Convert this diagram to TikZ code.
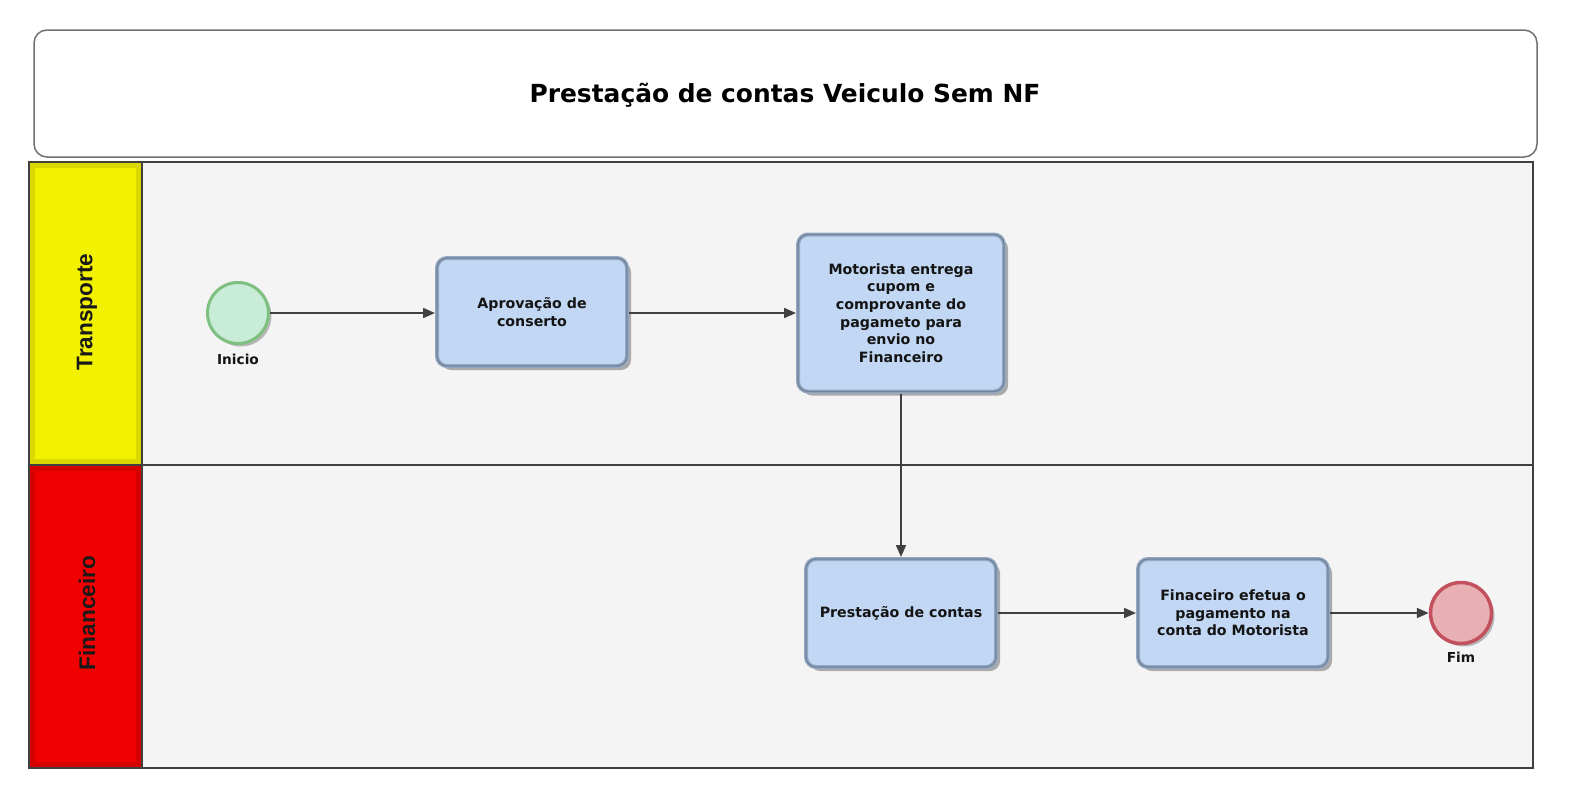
\documentclass[tikz,border=0pt]{standalone}
\usepackage{fontspec}
\setmainfont{DejaVu Sans}
\newfontfamily\lanefont{Liberation Sans}
\usetikzlibrary{shadows,arrows.meta}
\definecolor{lanebg}{HTML}{F4F4F4}
\definecolor{laneline}{HTML}{404040}
\definecolor{taskfill}{HTML}{C2D7F3}
\definecolor{taskedge}{HTML}{95A8C2}
\definecolor{taskdark}{HTML}{6F819B}
\definecolor{startfill}{HTML}{C8ECD8}
\definecolor{startedge}{HTML}{7DC07F}
\definecolor{endfill}{HTML}{E8B0B2}
\definecolor{endedge}{HTML}{C2505E}
\definecolor{arrowc}{HTML}{404040}
\definecolor{titleedge}{HTML}{707070}
\definecolor{laneyellow}{HTML}{F2F200}
\definecolor{laneyellowd}{HTML}{C8C400}
\definecolor{lanered}{HTML}{F00000}
\definecolor{laneredd}{HTML}{C00000}
\tikzset{
  task/.style={rectangle, rounded corners=10pt, fill=taskfill, draw=taskedge,
    line width=4pt, minimum width=190pt, minimum height=108pt, align=center,
    font=\fontsize{14.2}{17.6}\selectfont\bfseries, text=black!92, inner sep=2pt,
    drop shadow={shadow xshift=4pt, shadow yshift=-4pt, fill=black, opacity=0.3},
    postaction={draw=taskdark, line width=1.2pt}},
  startev/.style={circle, minimum size=61pt, inner sep=0pt, fill=startfill, draw=startedge, line width=3pt,
    drop shadow={shadow xshift=3pt, shadow yshift=-3pt, fill=black, opacity=0.25}},
  endev/.style={circle, minimum size=61pt, inner sep=0pt, fill=endfill, draw=endedge, line width=3.5pt,
    drop shadow={shadow xshift=3pt, shadow yshift=-3pt, fill=black, opacity=0.25}},
  evlabel/.style={font=\fontsize{13.7}{16}\selectfont\bfseries, text=black!92},
  flow/.style={draw=arrowc, line width=1.8pt, -{Triangle[length=12pt,width=10pt]}},
  lanelabel/.style={rotate=90, font=\lanefont\bfseries\fontsize{22.6}{23}\selectfont, text=black!90},
}
\begin{document}
\begin{tikzpicture}[x=1pt,y=-1pt]
\useasboundingbox (0,0) rectangle (1580,801);
\fill[white] (0,0) rectangle (1580,801);
% title
\node[draw=titleedge, line width=1.5pt, rounded corners=13pt, fill=white,
  minimum width=1503pt, minimum height=127pt] (titlebox) at (785.5,93.5) {};
\node[font=\fontsize{24.9}{28}\selectfont\bfseries, text=black] (title) at (785,95) {Prestação de contas Veiculo Sem NF};
% pool
\fill[lanebg] (29,162) rectangle (1533,768);
% lane labels
\fill[laneyellow] (29,162) rectangle (142,465);
\draw[laneyellowd, line width=5pt, opacity=0.55] (32.5,165.5) rectangle (138.5,461.5);
\fill[lanered] (29,465) rectangle (142,768);
\draw[laneredd, line width=5pt, opacity=0.55] (32.5,468.5) rectangle (138.5,764.5);
\draw[laneline, line width=2.2pt] (29,162) rectangle (1533,768);
\draw[laneline, line width=2.2pt] (29,465) -- (1533,465);
\draw[laneline, line width=2.2pt] (142,162) -- (142,768);
\node[lanelabel] (l1) at (87,312) {Transporte};
\node[lanelabel] (l2) at (87,613) {Financeiro};
% events
\node[startev] (start) at (238,313) {};
\node[evlabel] (startlbl) at (238,359) {Inicio};
\node[endev] (fim) at (1461,613) {};
\node[evlabel] (fimlbl) at (1461,657) {Fim};
% tasks
\node[task] (apr) at (532,312) {Aprovação de\\conserto};
\node[task, minimum width=206pt, minimum height=157pt] (mot) at (901,313)
  {Motorista entrega\\cupom e\\comprovante do\\pagameto para\\envio no\\Financeiro};
\node[task] (pre) at (901,613) {Prestação de contas};
\node[task] (fin) at (1233,613) {Finaceiro efetua o\\pagamento na\\conta do Motorista};
% flows
\draw[flow] (start) -- (apr.west |- start);
\draw[flow] (apr.east |- start) -- (mot.west |- start);
\draw[flow] (mot) -- (pre);
\draw[flow] (pre) -- (fin.west |- pre);
\draw[flow] (fin.east |- pre) -- (fim);
\end{tikzpicture}
\end{document}
